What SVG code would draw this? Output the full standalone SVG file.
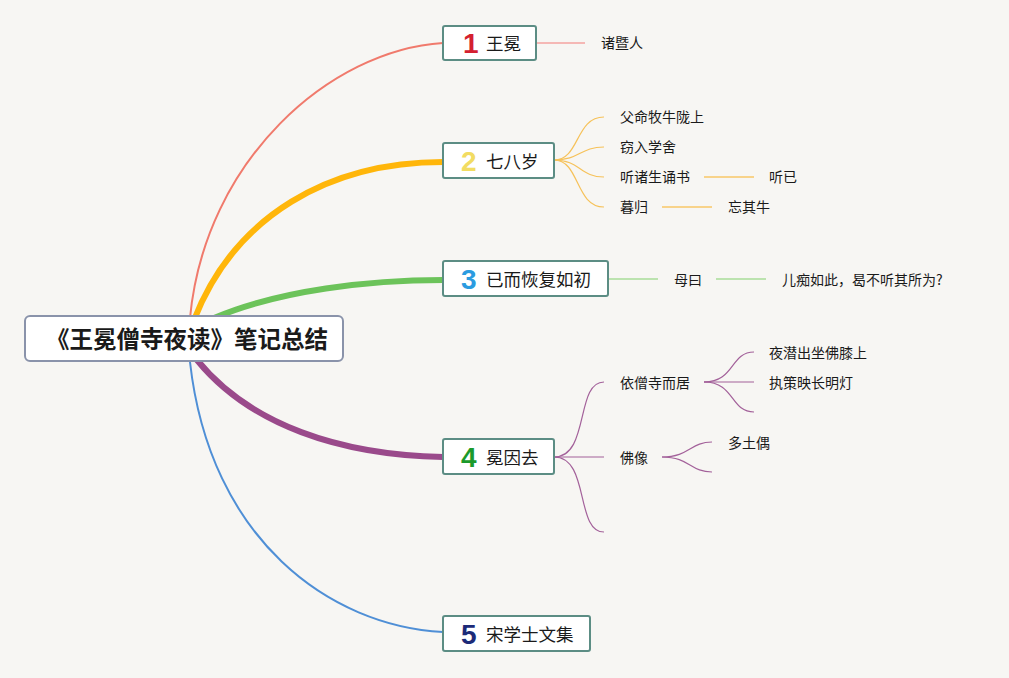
<svg xmlns="http://www.w3.org/2000/svg" width="1009" height="678" viewBox="0 0 1009 678">
<style>
.bg{fill:#f7f6f3}
.box{fill:#ffffff;stroke:#5c8d84;stroke-width:2}
.root{fill:#ffffff;stroke:#8a93aa;stroke-width:2}
.t{font-family:"Noto Sans CJK SC","Noto Sans",sans-serif;fill:#1a1a1a}
.main{font-size:17.5px}
.sub{font-size:14px}
.num{font-family:"Liberation Sans",Arial,sans-serif;font-weight:bold;font-size:28px}
.c{fill:none}
</style>
<rect class="bg" x="0" y="0" width="1009" height="678"/>
<g id="connectors" class="c">
<path d="M190,318 C205,160 330,50 443,43" stroke="#f07a6c" stroke-width="2"/>
<path d="M194,320 C235,215 330,162 443,162" stroke="#ffb60a" stroke-width="6"/>
<path d="M214,318 C280,290 370,280 443,280" stroke="#6cc35a" stroke-width="6"/>
<path d="M197,360 C250,425 340,455 443,457" stroke="#9a4a8b" stroke-width="6"/>
<path d="M190,362 C210,540 330,626 443,632" stroke="#4f8fd6" stroke-width="2"/>
<path d="M536,43 L585,43" stroke="#f4a3a0" stroke-width="1.5"/>
<g stroke="#f6c25a" stroke-width="1.2">
<path d="M554,160 C580,160 575,117 604,117"/>
<path d="M554,160 C580,160 580,147 604,147"/>
<path d="M554,160 C580,160 580,177 604,177"/>
<path d="M554,160 C580,160 575,207 604,207"/>
<path d="M704,177 L754,177" stroke="#f8d38a" stroke-width="2"/>
<path d="M662,207 L712,207" stroke="#f8d38a" stroke-width="2"/>
</g>
<g stroke="#a8dc98" stroke-width="1.5">
<path d="M608,279 L658,279"/>
<path d="M716,279 L766,279"/>
</g>
<g stroke="#a3619a" stroke-width="1.2">
<path d="M554,457 C590,457 575,382 604,382"/>
<path d="M554,457 L604,457"/>
<path d="M554,457 C590,457 575,532 604,532"/>
<path d="M704,382 C735,382 730,352 754,352"/>
<path d="M704,382 L754,382"/>
<path d="M704,382 C735,382 730,412 754,412"/>
<path d="M662,457 C690,457 690,442 712,442"/>
<path d="M662,457 C690,457 690,472 712,472"/>
</g>
</g>
<g id="root">
<rect class="root" x="25" y="316" width="318" height="45" rx="5"/>
<text class="t" x="187" y="348" font-size="23.5" font-weight="bold" text-anchor="middle">《王冕僧寺夜读》笔记总结</text>
</g>
<g id="n1">
<rect class="box" x="443" y="26" width="93" height="34" rx="2"/>
<text class="num" x="463" y="53" fill="#d4202f">1</text>
<text class="t main" x="486" y="50">王冕</text>
</g>
<g id="n1a"><text class="t sub" x="601" y="48">诸暨人</text></g>
<g id="n2">
<rect class="box" x="443" y="143" width="111" height="35" rx="2"/>
<text class="num" x="461" y="171" fill="#f2dc62">2</text>
<text class="t main" x="486" y="168">七八岁</text>
</g>
<g id="n2a"><text class="t sub" x="620" y="122">父命牧牛陇上</text></g>
<g id="n2b"><text class="t sub" x="620" y="152">窃入学舍</text></g>
<g id="n2c"><text class="t sub" x="620" y="182">听诸生诵书</text></g>
<g id="n2c1"><text class="t sub" x="769" y="182">听已</text></g>
<g id="n2d"><text class="t sub" x="620" y="212">暮归</text></g>
<g id="n2d1"><text class="t sub" x="728" y="212">忘其牛</text></g>
<g id="n3">
<rect class="box" x="443" y="261" width="165" height="35" rx="2"/>
<text class="num" x="461" y="289" fill="#2b9be0">3</text>
<text class="t main" x="486" y="286">已而恢复如初</text>
</g>
<g id="n3a"><text class="t sub" x="674" y="285">母曰</text></g>
<g id="n3b"><text class="t sub" x="782" y="285">儿痴如此，曷不听其所为?</text></g>
<g id="n4">
<rect class="box" x="443" y="439" width="111" height="35" rx="2"/>
<text class="num" x="461" y="467" fill="#1b9a2b">4</text>
<text class="t main" x="486" y="464">冕因去</text>
</g>
<g id="n4a"><text class="t sub" x="620" y="388">依僧寺而居</text></g>
<g id="n4a1"><text class="t sub" x="769" y="358">夜潜出坐佛膝上</text></g>
<g id="n4a2"><text class="t sub" x="769" y="388">执策映长明灯</text></g>
<g id="n4b"><text class="t sub" x="620" y="463">佛像</text></g>
<g id="n4b1"><text class="t sub" x="728" y="448">多土偶</text></g>
<g id="n5">
<rect class="box" x="443" y="616" width="147" height="35" rx="2"/>
<text class="num" x="461" y="644" fill="#1c2a78">5</text>
<text class="t main" x="486" y="641">宋学士文集</text>
</g>
</svg>
